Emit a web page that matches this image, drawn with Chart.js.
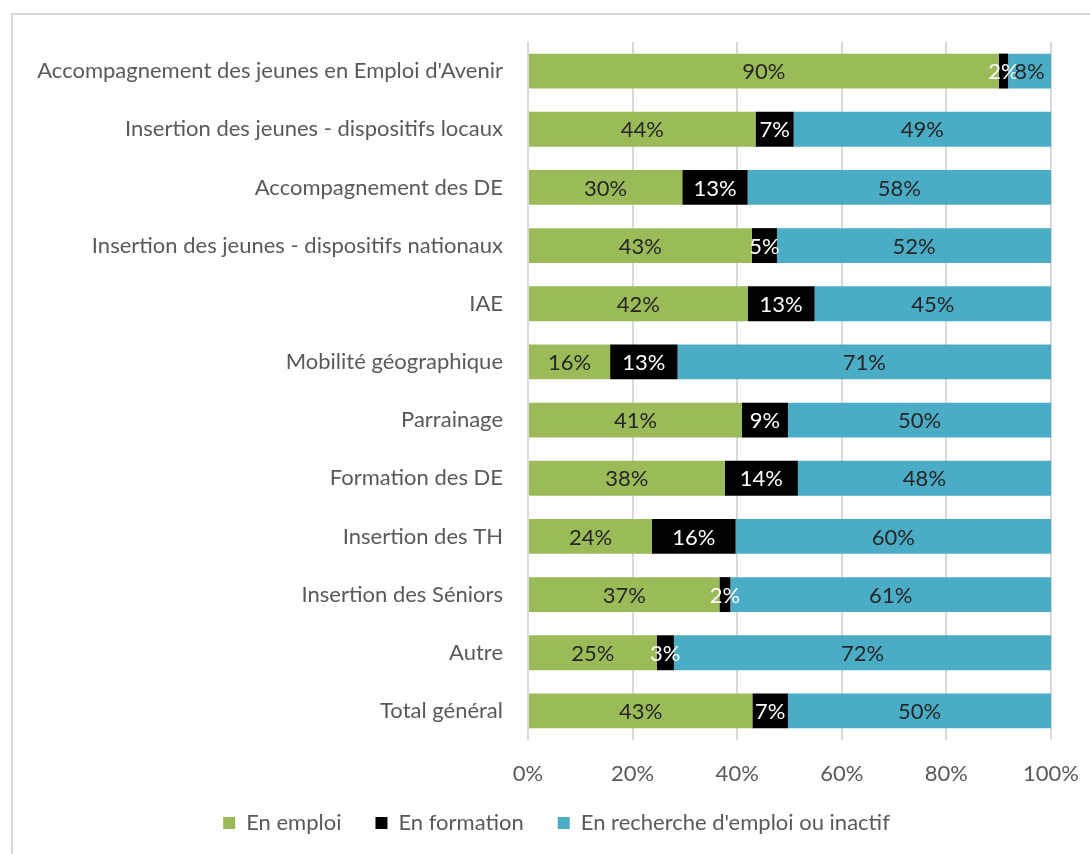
<!DOCTYPE html>
<html>
<head>
<meta charset="utf-8">
<script src="https://cdn.jsdelivr.net/npm/chart.js@4.4.1/dist/chart.umd.min.js"></script>
<style>
  html, body { margin: 0; padding: 0; background: #ffffff; }
  #wrap { position: relative; width: 1090px; height: 854px; }
</style>
</head>
<body>
<div id="wrap"><canvas id="c" width="1090" height="854"></canvas></div>
<script>
const categories = [
  "Accompagnement des jeunes en Emploi d'Avenir",
  "Insertion des jeunes - dispositifs locaux",
  "Accompagnement des DE",
  "Insertion des jeunes - dispositifs nationaux",
  "IAE",
  "Mobilité géographique",
  "Parrainage",
  "Formation des DE",
  "Insertion des TH",
  "Insertion des Séniors",
  "Autre",
  "Total général"
];
const enEmploi    = [90.0, 43.5, 29.5, 42.8, 42.0, 15.7, 40.9, 37.6, 23.7, 36.6, 24.6, 42.9];
const enFormation = [1.8, 7.3, 12.5, 4.8, 12.8, 12.9, 8.8, 14.0, 16.0, 2.1, 3.3, 6.8];
const enRecherche = [8.2, 49.2, 58.0, 52.4, 45.2, 71.4, 50.3, 48.4, 60.3, 61.3, 72.1, 50.3];
const seriesNames = ["En emploi", "En formation", "En recherche d'emploi ou inactif"];
const xTicks = [0, 20, 40, 60, 80, 100];

const FONT = "Lato";
const FS = 22;
const GREY = "#595959";

const frame = {
  id: 'frame',
  beforeDraw(chart) {
    const ctx = chart.ctx;
    ctx.save();
    ctx.strokeStyle = '#d9d9d9';
    ctx.lineWidth = 2;
    ctx.beginPath();
    ctx.moveTo(12, 900);
    ctx.lineTo(12, 14);
    ctx.lineTo(1100, 14);
    ctx.stroke();
    ctx.restore();
  }
};

const layoutTweak = {
  id: 'layoutTweak',
  afterLayout(chart) {
    const lg = chart.legend;
    if (lg) { lg.left += 31; lg.right += 31; }
    const xs = chart.scales.x;
    if (xs) { xs.bottom += 24; }
  }
};

const labelsPlugin = {
  id: 'segLabels',
  afterDatasetsDraw(chart) {
    const ctx = chart.ctx;
    ctx.save();
    ctx.font = `${FS}px ${FONT}`;
    ctx.textAlign = 'center';
    ctx.textBaseline = 'middle';
    chart.data.datasets.forEach((ds, di) => {
      const meta = chart.getDatasetMeta(di);
      meta.data.forEach((el, i) => {
        const v = ds.data[i];
        const cx = (el.x + el.base) / 2;
        ctx.fillStyle = di === 1 ? '#ffffff' : '#262626';
        ctx.fillText(Math.round(v) + '%', cx, el.y + 1);
      });
    });
    ctx.restore();
  }
};

new Chart(document.getElementById('c'), {
  type: 'bar',
  data: {
    labels: categories,
    datasets: [
      { label: seriesNames[0], data: enEmploi, backgroundColor: '#9bbb59' },
      { label: seriesNames[1], data: enFormation, backgroundColor: '#000000' },
      { label: seriesNames[2], data: enRecherche, backgroundColor: '#4bacc6' }
    ]
  },
  options: {
    indexAxis: 'y',
    responsive: false,
    animation: false,
    devicePixelRatio: 1,
    datasets: { bar: { barPercentage: 0.6, categoryPercentage: 1.0 } },
    layout: { padding: { left: 0, right: 39, top: 42, bottom: 10 } },
    scales: {
      x: {
        stacked: true,
        min: 0, max: 100,
        afterBuildTicks(scale) { scale.ticks = xTicks.map(v => ({ value: v })); },
        afterFit(scale) { scale.height = 38; scale.paddingRight = 0; scale.paddingLeft = 0; },
        grid: { color: '#d9d9d9', lineWidth: 2, drawTicks: false },
        border: { display: false },
        ticks: {
          padding: 21,
          color: GREY,
          font: { family: FONT, size: FS },
          callback: v => v + '%'
        }
      },
      y: {
        stacked: true,
        afterFit(scale) { scale.width = 528; },
        grid: { display: false, drawTicks: false },
        border: { display: false },
        ticks: {
          padding: 25,
          color: GREY,
          font: { family: FONT, size: FS },
          autoSkip: false
        }
      }
    },
    plugins: {
      legend: {
        position: 'bottom',
        labels: {
          boxWidth: 12, boxHeight: 12, padding: 34,
          color: GREY,
          font: { family: FONT, size: FS }
        }
      },
      tooltip: { enabled: false }
    }
  },
  plugins: [frame, layoutTweak, labelsPlugin]
});
</script>
</body>
</html>
